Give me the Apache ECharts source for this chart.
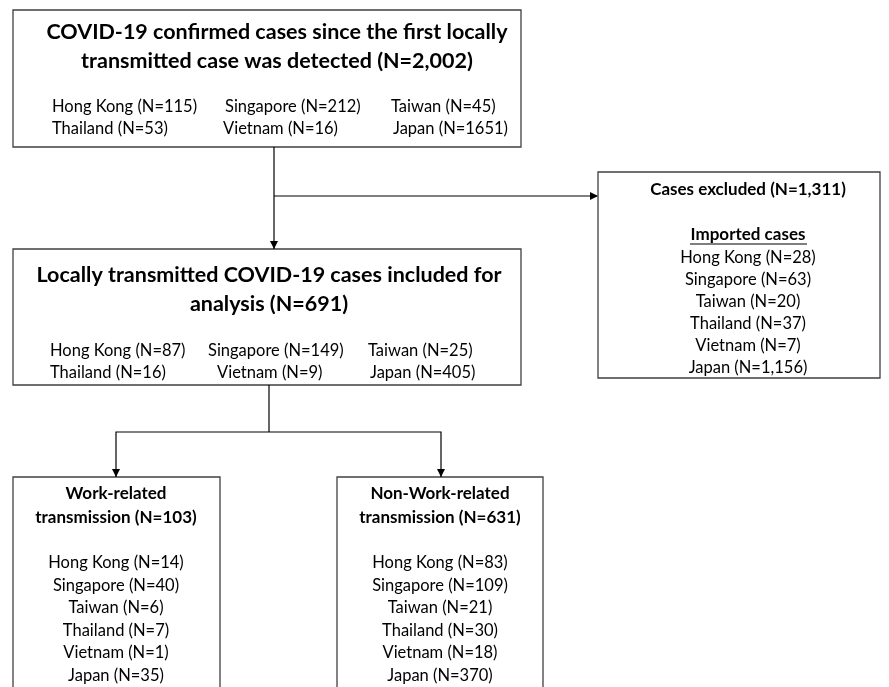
<!DOCTYPE html>
<html>
<head>
<meta charset="utf-8">
<script src="https://cdn.jsdelivr.net/npm/echarts@6/dist/echarts.min.js"></script>
<style>
  html, body { margin: 0; padding: 0; background: #fff; }
  #flow { width: 889px; height: 687px; }
</style>
</head>
<body>
<div id="flow"></div>
<script>
// data
var countries = ['Hong Kong', 'Singapore', 'Taiwan', 'Thailand', 'Vietnam', 'Japan'];
var confirmedCases = [115, 212, 45, 53, 16, 1651];
var localCases = [87, 149, 25, 16, 9, 405];
var importedCases = [28, 63, 20, 37, 7, 1156];
var workCases = [14, 40, 6, 7, 1, 35];
var nonWorkCases = [83, 109, 21, 30, 18, 370];
var totals = { confirmed: 2002, local: 691, excluded: 1311, work: 103, nonWork: 631 };

var FONT = 'Lato, "Open Sans", sans-serif';
var els = [];

function fmt(n) { return n.toLocaleString('en-US'); }

function box(x, y, w, h) {
  els.push({ type: 'rect', shape: { x: x, y: y, width: w, height: h },
    style: { fill: '#fff', stroke: '#404040', lineWidth: 1.3 }, z: 1 });
}
function txt(s, x, y, size, bold, align) {
  els.push({ type: 'text', z: 5,
    style: { text: s, x: x, y: y, fill: '#000', textAlign: align || 'center', textVerticalAlign: 'middle',
      font: (bold ? 'bold ' : '') + size + 'px ' + FONT } });
}
function line(pts) {
  els.push({ type: 'polyline', shape: { points: pts }, style: { stroke: '#000', lineWidth: 1.2, fill: null }, z: 2 });
}
function arrowDown(x, y) {
  els.push({ type: 'polygon', shape: { points: [[x - 4, y - 8], [x + 4, y - 8], [x, y]] }, style: { fill: '#000' }, z: 3 });
}
function arrowRight(x, y) {
  els.push({ type: 'polygon', shape: { points: [[x - 8, y - 4], [x - 8, y + 4], [x, y]] }, style: { fill: '#000' }, z: 3 });
}
function label(i, arr, comma) {
  return countries[i] + ' (N=' + (comma ? fmt(arr[i]) : arr[i]) + ')';
}

var TITLE = 21.5, SUB = 17, BODY = 16.5;

// box 1: confirmed cases
box(13, 10, 508, 137);
txt('COVID-19 confirmed cases since the first locally', 277, 32, TITLE, true);
txt('transmitted case was detected (N=' + fmt(totals.confirmed) + ')', 277, 61, TITLE, true);
var cols1 = [[52, 225, 391], [52, 223, 393]];
for (var i = 0; i < 6; i++) {
  var r = i < 3 ? 0 : 1;
  txt(label(i, confirmedCases, false), cols1[r][i % 3], r ? 129 : 107, BODY, false, 'left');
}

// connector to box 2 and excluded
line([[274, 147], [274, 249]]);
arrowDown(274, 249);
line([[274, 196], [597, 196]]);
arrowRight(598, 196);

// excluded box
box(598, 172, 282, 206);
txt('Cases excluded (N=' + fmt(totals.excluded) + ')', 748, 190, SUB, true);
txt('Imported cases', 748, 235, SUB, true);
els.push({ type: 'line', shape: { x1: 690, y1: 244, x2: 807, y2: 244 }, style: { stroke: '#000', lineWidth: 1.2 }, z: 5 });
for (var i = 0; i < 6; i++) {
  txt(label(i, importedCases, true), 748, 258 + i * 22, BODY, false);
}

// box 2: locally transmitted
box(13, 249, 508, 136);
txt('Locally transmitted COVID-19 cases included for', 269, 275, TITLE, true);
txt('analysis (N=' + fmt(totals.local) + ')', 269, 304, TITLE, true);
var cols2 = [[50, 208, 368], [50, 217, 370]];
for (var i = 0; i < 6; i++) {
  var r = i < 3 ? 0 : 1;
  txt(label(i, localCases, false), cols2[r][i % 3], r ? 373 : 351, BODY, false, 'left');
}

// split
line([[269, 385], [269, 432]]);
line([[116, 477], [116, 432], [441, 432], [441, 477]]);
arrowDown(116, 477);
arrowDown(441, 477);

// box 4: work related
box(13, 477, 207, 216);
txt('Work-related', 116, 494, SUB, true);
txt('transmission (N=' + totals.work + ')', 116, 518, SUB, true);
for (var i = 0; i < 6; i++) {
  txt(label(i, workCases, false), 116, 563 + i * 22.5, BODY, false);
}

// box 5: non-work related
box(337, 477, 206, 216);
txt('Non-Work-related', 440, 494, SUB, true);
txt('transmission (N=' + totals.nonWork + ')', 440, 518, SUB, true);
for (var i = 0; i < 6; i++) {
  txt(label(i, nonWorkCases, false), 440, 563 + i * 22.5, BODY, false);
}

var myChart = echarts.init(document.getElementById('flow'));
myChart.setOption({ animation: false, graphic: { elements: els } });
</script>
</body>
</html>
